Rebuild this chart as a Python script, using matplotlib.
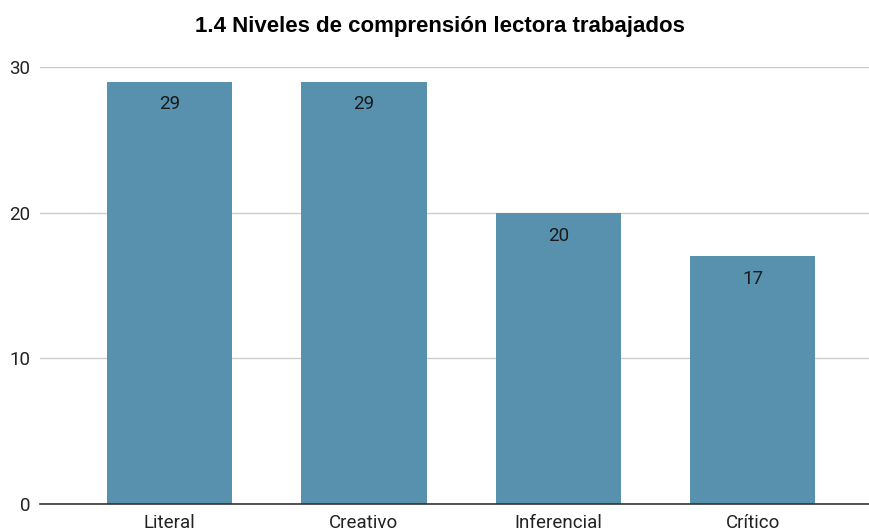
import matplotlib.pyplot as plt

categories = ['Literal', 'Creativo', 'Inferencial', 'Crítico']
values = [29, 29, 20, 17]
title = '1.4 Niveles de comprensión lectora trabajados'

bar_color = '#5891ae'

fig = plt.figure(figsize=(8.7, 5.31), dpi=100)
ax = fig.add_axes([0.046, 0.0508, 0.954, 0.823])

x = list(range(len(categories)))
bars = ax.bar(x, values, width=0.645, color=bar_color, zorder=3)

for b, v in zip(bars, values):
    ax.annotate(str(v), (b.get_x() + b.get_width() / 2, v), xytext=(0, -10),
                textcoords='offset points', ha='center', va='top',
                fontsize=13.5, family='Roboto', color='#1a1a1a', zorder=4)

ax.set_xlim(-0.665, 3.603)
ax.set_ylim(0, 30)
ax.set_yticks([0, 10, 20, 30])
ax.set_xticks(x)
ax.set_xticklabels(categories, family='Roboto', fontsize=13.5, color='#222222')
for lbl in ax.get_yticklabels():
    lbl.set_family('Roboto')
    lbl.set_fontsize(13.5)
    lbl.set_color('#222222')

ax.grid(axis='y', color='#cccccc', linewidth=1, zorder=0)
for s in ['top', 'right', 'left']:
    ax.spines[s].set_visible(False)
ax.spines['bottom'].set_color('#333333')
ax.spines['bottom'].set_linewidth(1.2)
ax.spines['bottom'].set_zorder(5)
ax.tick_params(axis='both', length=0)
ax.tick_params(axis='y', pad=7)
ax.tick_params(axis='x', pad=7)

fig.text(0.506, 0.951, title, ha='center', va='center', fontsize=16,
         fontweight='bold', family='Liberation Sans', color='#000000')

fig.savefig('out.png', dpi=100)
